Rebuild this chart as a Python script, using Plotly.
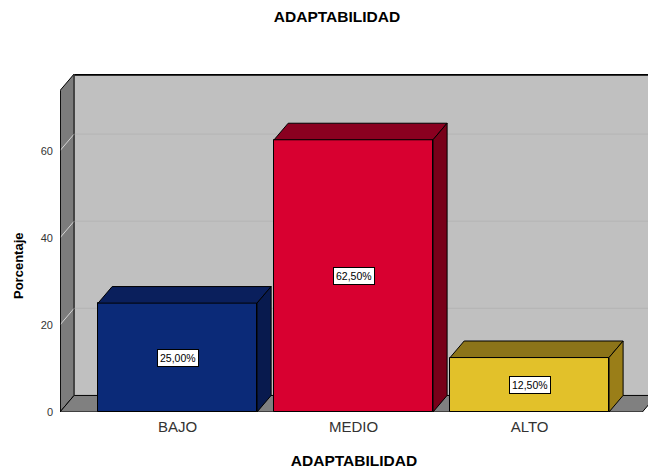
import plotly.graph_objects as go

# ---- data ----
categories = ["BAJO", "MEDIO", "ALTO"]
percentages = [25.0, 62.5, 12.5]
value_labels = ["25,00%", "62,50%", "12,50%"]
y_tick_values = [0, 20, 40, 60]
y_tick_labels = ["0", "20", "40", "60"]

# ---- style ----
front_colors = ["#0b2a78", "#d80030", "#e2c12a"]
top_colors = ["#0a1f5c", "#8a0020", "#8c7419"]
side_colors = ["#081a4e", "#780019", "#9a7e18"]
FONT = "Arial, Liberation Sans, sans-serif"

x_lo, x_hi = -0.668, 2.673
y_lo, y_hi = 0, 77.6
dx, dy = 0.08, 3.8
bar_w = 0.903

PLOT_L, PLOT_R, PLOT_T, PLOT_B = 60, 648, 74, 412

x_idx = list(range(len(categories)))

fig = go.Figure()
fig.add_trace(go.Bar(
    x=x_idx, y=percentages, width=bar_w,
    marker=dict(color=front_colors, line=dict(color="#000000", width=1)),
    hoverinfo="skip", showlegend=False,
))

shapes = []
def poly(pts, fill, line="#000000", lw=1, layer="above"):
    d = "M " + " L ".join(f"{x},{y}" for x, y in pts) + " Z"
    shapes.append(dict(type="path", path=d, xref="x", yref="y",
                       fillcolor=fill, line=dict(color=line, width=lw), layer=layer))

def seg(x0, y0, x1, y1, color, lw=1, layer="below"):
    shapes.append(dict(type="line", x0=x0, y0=y0, x1=x1, y1=y1, xref="x", yref="y",
                       line=dict(color=color, width=lw), layer=layer))

# back panel
poly([(x_lo + dx, dy), (x_hi + 0.05, dy), (x_hi + 0.05, y_hi), (x_lo + dx, y_hi)],
     "#c0c0c0", line="rgba(0,0,0,0)", lw=0, layer="below")
# left wall
poly([(x_lo, 0), (x_lo, y_hi - dy), (x_lo + dx, y_hi), (x_lo + dx, dy)],
     "#7c7c7c", line="#000000", lw=1, layer="below")
# floor
poly([(x_lo, 0), (x_hi - dx * 0.4, 0), (x_hi + dx * 0.6, dy), (x_lo + dx, dy)],
     "#808080", line="#000000", lw=1, layer="below")
# back panel top line
seg(x_lo + dx, y_hi - 0.15, x_hi + 0.05, y_hi - 0.15, "#000000", 2)
# gridlines
for v in y_tick_values[1:]:
    seg(x_lo + dx, v + dy, x_hi + 0.05, v + dy, "#b4b4b4", 1)
    seg(x_lo, v, x_lo + dx, v + dy, "#d4d4d4", 1)
# back-left edge of panel
seg(x_lo + dx, dy, x_lo + dx, y_hi, "#404040", 1)
# front axis line
seg(x_lo, 0, x_lo, y_hi - dy, "#000000", 1.5)

# bar 3D faces
for i, v in enumerate(percentages):
    x0, x1 = i - bar_w / 2, i + bar_w / 2
    poly([(x0, v), (x1, v), (x1 + dx, v + dy), (x0 + dx, v + dy)], top_colors[i])
    poly([(x1, 0), (x1, v), (x1 + dx, v + dy), (x1 + dx, dy)], side_colors[i])

annotations = []
for i, v in enumerate(percentages):
    annotations.append(dict(
        x=i, y=v / 2, xref="x", yref="y", text=value_labels[i], showarrow=False,
        font=dict(family=FONT, size=10.5, color="#000000"),
        bgcolor="#ffffff", bordercolor="#000000", borderwidth=1, borderpad=2,
    ))
annotations.append(dict(
    x=(18 - PLOT_L) / (PLOT_R - PLOT_L), y=(PLOT_B - 266) / (PLOT_B - PLOT_T),
    xref="paper", yref="paper", xanchor="center", yanchor="middle",
    text="<b>Porcentaje</b>", textangle=-90, showarrow=False,
    font=dict(family=FONT, size=13, color="#000000"),
))

fig.update_layout(
    width=648, height=469,
    margin=dict(l=PLOT_L, r=648 - PLOT_R, t=PLOT_T, b=469 - PLOT_B),
    paper_bgcolor="#ffffff", plot_bgcolor="#ffffff",
    title=dict(text="<b>ADAPTABILIDAD</b>", x=337 / 648, xanchor="center",
               y=1 - 17 / 469, yanchor="middle",
               font=dict(family=FONT, size=15.5, color="#000000")),
    xaxis=dict(range=[x_lo, x_hi], tickvals=x_idx, ticktext=categories,
               showgrid=False, zeroline=False, showline=False, ticks="",
               ticklabelstandoff=4,
               tickfont=dict(family=FONT, size=15, color="#333333"),
               title=dict(text="<b>ADAPTABILIDAD</b>", standoff=21,
                          font=dict(family=FONT, size=15.5, color="#000000"))),
    yaxis=dict(range=[y_lo, y_hi], tickvals=y_tick_values, ticktext=y_tick_labels,
               showgrid=False, zeroline=False, showline=False, ticks="",
               ticklabelstandoff=6,
               tickfont=dict(family=FONT, size=11, color="#333333")),
    shapes=shapes, annotations=annotations,
    bargap=0,
)

fig.write_html("out.html", config={"displayModeBar": False},
               post_script="document.body.style.margin='0';")
